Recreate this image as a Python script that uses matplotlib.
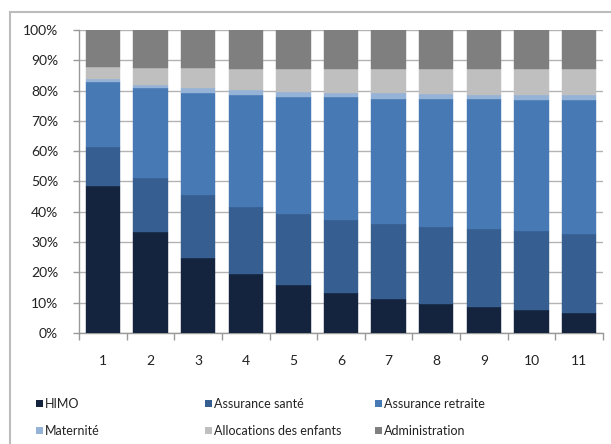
import matplotlib
matplotlib.use("Agg")
import matplotlib.pyplot as plt
import numpy as np
from matplotlib.lines import Line2D
from matplotlib.patches import Rectangle

categories = ["1", "2", "3", "4", "5", "6", "7", "8", "9", "10", "11"]
series_names = ["HIMO", "Assurance santé", "Assurance retraite",
                "Maternité", "Allocations des enfants", "Administration"]
himo = [48.5, 33.4, 24.9, 19.6, 16.0, 13.3, 11.1, 9.6, 8.5, 7.5, 6.6]
sante = [12.8, 17.7, 20.5, 22.0, 23.2, 24.0, 24.9, 25.3, 25.7, 26.0, 26.1]
retraite = [21.6, 29.6, 33.9, 37.0, 38.8, 40.5, 41.3, 42.4, 42.9, 43.4, 44.3]
maternite = [0.8, 1.1, 1.5, 1.6, 1.6, 1.5, 1.8, 1.6, 1.6, 1.7, 1.7]
allocations = [4.2, 5.5, 6.5, 6.9, 7.5, 7.7, 7.9, 8.1, 8.3, 8.4, 8.3]
administration = [12.1, 12.7, 12.7, 12.9, 12.9, 13.0, 13.0, 13.0, 13.0, 13.0, 13.0]
colors = ["#14243f", "#365e90", "#4779b4", "#95b3d7", "#bfbfbf", "#7f7f7f"]

plt.rcParams['font.family'] = ['Lato', 'DejaVu Sans']

fig = plt.figure(figsize=(6.11, 4.44), dpi=100)
W, H = 611, 444
ax = fig.add_axes([79 / W, 1 - 333 / H, (603 - 79) / W, (333 - 30) / H])

data = [himo, sante, retraite, maternite, allocations, administration]
x = np.arange(len(categories))
bottom = np.zeros(len(categories))
for vals, name, c in zip(data, series_names, colors):
    vals = np.array(vals)
    ax.bar(x, vals, 0.72, bottom=bottom, color=c, label=name, zorder=3,
           edgecolor=c, linewidth=0.3)
    bottom += vals

ax.set_xlim(-0.5, len(categories) - 0.5)
ax.set_ylim(0, 100)
ax.set_yticks(np.arange(0, 101, 10))
ax.set_yticklabels([f"{v}%" for v in range(0, 101, 10)])
ax.yaxis.grid(True, color="#b3b3b3", linewidth=1, zorder=0)
ax.set_axisbelow(True)

ax.set_xticks(x)
ax.set_xticklabels(categories)
ax.set_xticks(np.arange(-0.5, len(categories), 1), minor=True)
ax.tick_params(axis="x", which="major", length=0, pad=16, labelsize=10, colors="#222222")
ax.tick_params(axis="x", which="minor", length=5, color="#999999", width=1)
ax.tick_params(axis="y", length=4, color="#999999", width=1, pad=11, labelsize=10,
               labelcolor="#222222")

for s in ["top", "right"]:
    ax.spines[s].set_visible(False)
ax.spines["left"].set_color("#999999")
ax.spines["bottom"].set_color("#999999")
ax.spines["left"].set_linewidth(1)
ax.spines["bottom"].set_linewidth(1)

# chart border
fig.add_artist(Line2D([10 / W, 10 / W], [0, 1 - 12 / H], color="#bcbcbc", linewidth=1.5,
                      transform=fig.transFigure))
fig.add_artist(Line2D([10 / W, 1], [1 - 12 / H, 1 - 12 / H], color="#bcbcbc", linewidth=1.5,
                      transform=fig.transFigure))

# legend
col_x = [36, 205, 375]
row_y = [403.5, 430.5]
sq = 7
for i, (name, c) in enumerate(zip(series_names, colors)):
    cx = col_x[i % 3]
    cy = row_y[i // 3]
    fig.add_artist(Rectangle((cx / W, 1 - (cy + sq / 2) / H), sq / W, sq / H,
                             facecolor=c, edgecolor="none", transform=fig.transFigure))
    fig.text((cx + sq + 2) / W, 1 - cy / H, name, fontsize=9, va="center", ha="left",
             color="#222222")

fig.savefig("out.png", dpi=100)
